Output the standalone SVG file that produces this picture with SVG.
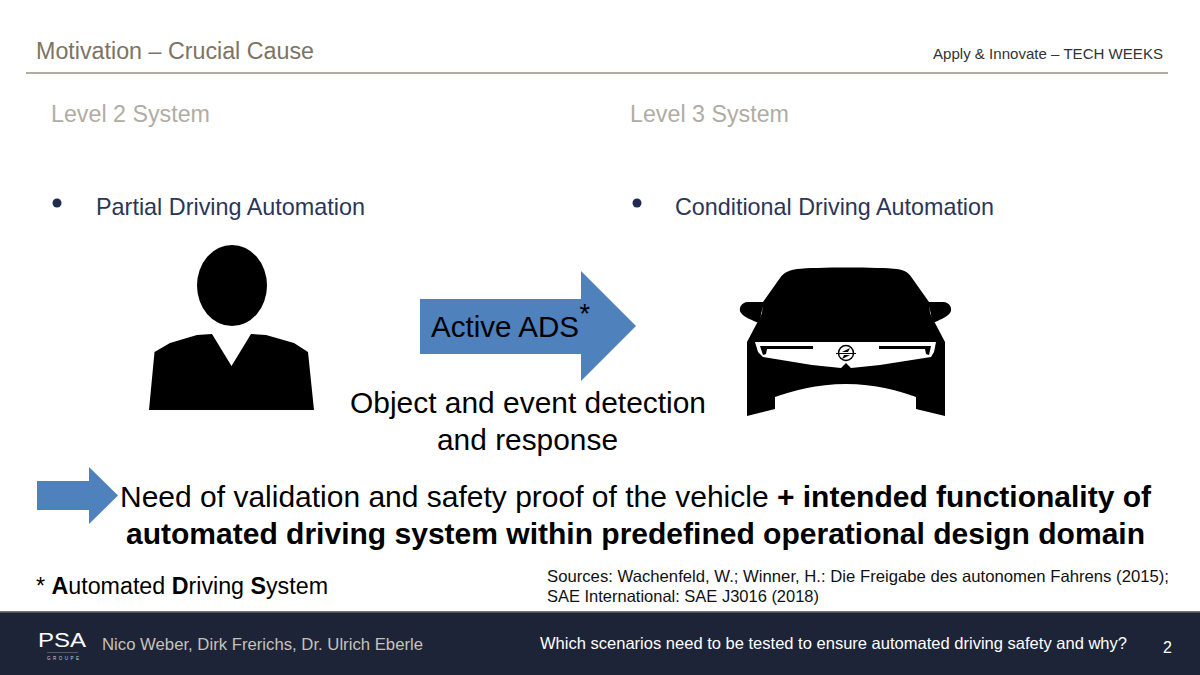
<svg xmlns="http://www.w3.org/2000/svg" width="1200" height="675" viewBox="0 0 1200 675">
<style>
text{font-family:"Liberation Sans",Arial,sans-serif}
.hd{font-size:23px;fill:#b0aca4}
.bl{font-size:23.400px;fill:#2a3658}
.big{font-size:30px;fill:#000}
.src{font-size:16.500px;fill:#111}
.ar{fill:#4f81bd}
.k{fill:#000}
.w{fill:#fff}
</style>
<rect width="1200" height="675" fill="#fff"/>
<g id="header">
<text x="36" y="59" font-size="23" fill="#7d7365" textLength="278" lengthAdjust="spacingAndGlyphs">Motivation – Crucial Cause</text>
<text x="933" y="59" font-size="15" fill="#333" textLength="230" lengthAdjust="spacingAndGlyphs">Apply &amp; Innovate – TECH WEEKS</text>
<rect x="26" y="72" width="1142" height="2" fill="#b5ac9f"/>
</g>
<g id="level2">
<text class="hd" x="51" y="122" textLength="159" lengthAdjust="spacingAndGlyphs">Level 2 System</text>
<circle cx="57" cy="203" r="4.500" fill="#1f2c50"/>
<text class="bl" x="96" y="215" textLength="269" lengthAdjust="spacingAndGlyphs">Partial Driving Automation</text>
</g>
<g id="level3">
<text class="hd" x="630" y="122" textLength="159" lengthAdjust="spacingAndGlyphs">Level 3 System</text>
<circle cx="637" cy="203" r="4.500" fill="#1f2c50"/>
<text class="bl" x="675" y="215" textLength="319" lengthAdjust="spacingAndGlyphs">Conditional Driving Automation</text>
</g>
<g id="person">
<ellipse class="k" cx="232" cy="285.500" rx="35" ry="40.500"/>
<path class="k" d="M149 410L154.500 352L170 343L197 335L212 334L231.500 366L251 334L266 335L294 343L308 352L314 410Z"/>
</g>
<g id="car">
<path class="k" d="M747 416V342L757 323L762 313L763 302L780 278C784 272 790 270 797 269C815 267 880 267 897 269C905 270 909 273 912 278L929 302L930 313L935 323L945 342V416L916 409V397C900 391 875 384 846 384C817 384 792 391 775 397V409Z"/>
<path class="k" d="M764 302H748C741 302 738 309 741 313C745 318 752 320 759 323Z"/>
<path class="k" d="M928 302H943C950 302 953 309 950 313C946 318 939 320 933 323Z"/>
<path class="w" d="M755 342H936L934 352L931 357L880 365L851 368L846 363L841 368L812 365L763 357L758 352Z"/>
<path class="k" d="M760 346H813V349H767L766 354L763 355ZM931 346H879V349H925L926 354L929 355Z"/>
<circle cx="846" cy="353" r="7.500" fill="#fff" stroke="#000" stroke-width="1.500"/>
<path class="k" d="M836 353H856V354H836ZM842 352L850 348L848 352ZM850 355L842 359L844 355Z"/>
</g>
<g id="connectors">
<path class="ar" d="M420 299H581V271L636 326L581 381V354H420Z"/>
<path class="ar" d="M37 481H89V467L118 495.500L89 524V510H37Z"/>
</g>
<g id="labels">
<text x="431" y="337" font-size="30" fill="#000" textLength="148" lengthAdjust="spacingAndGlyphs">Active ADS</text>
<text x="579.500" y="323" font-size="27" fill="#000">*</text>
<text class="big" x="350" y="413" textLength="356" lengthAdjust="spacingAndGlyphs">Object and event detection</text>
<text class="big" x="437" y="450" textLength="181" lengthAdjust="spacingAndGlyphs">and response</text>
<text class="big" x="120" y="507" textLength="1031" lengthAdjust="spacingAndGlyphs">Need of validation and safety proof of the vehicle <tspan font-weight="bold">+ intended functionality of</tspan></text>
<text class="big" x="126" y="544" font-weight="bold" textLength="1019" lengthAdjust="spacingAndGlyphs">automated driving system within predefined operational design domain</text>
<text x="36" y="594" font-size="23" fill="#000" textLength="292" lengthAdjust="spacingAndGlyphs">* <tspan font-weight="bold">A</tspan>utomated <tspan font-weight="bold">D</tspan>riving <tspan font-weight="bold">S</tspan>ystem</text>
<text class="src" x="547" y="582" textLength="622" lengthAdjust="spacingAndGlyphs">Sources: Wachenfeld, W.; Winner, H.: Die Freigabe des autonomen Fahrens (2015);</text>
<text class="src" x="547" y="602" textLength="272" lengthAdjust="spacingAndGlyphs">SAE International: SAE J3016 (2018)</text>
</g>
<g id="footer">
<rect y="611" width="1200" height="64" fill="#1e2438"/>
<rect y="611" width="1200" height="1.500" fill="#77797f"/>
<text x="38" y="647" font-size="20" fill="#fff" textLength="48" lengthAdjust="spacingAndGlyphs">PSA</text>
<rect x="47" y="652" width="31" height="0.800" fill="#666"/>
<text x="47" y="660" font-size="4.500" fill="#ccc" textLength="32">GROUPE</text>
<text x="102" y="650" font-size="16.500" fill="#c5c2ba" textLength="321" lengthAdjust="spacingAndGlyphs">Nico Weber, Dirk Frerichs, Dr. Ulrich Eberle</text>
<text x="540" y="649" font-size="16.500" fill="#fff" textLength="587" lengthAdjust="spacingAndGlyphs">Which scenarios need to be tested to ensure automated driving safety and why?</text>
<text x="1172" y="653" font-size="16" fill="#fff" text-anchor="end">2</text>
</g>
</svg>
